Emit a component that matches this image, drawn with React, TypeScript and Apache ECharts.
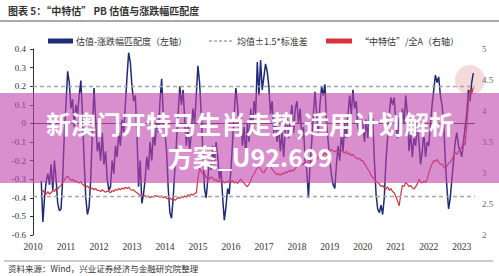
import React, { useEffect, useRef } from "react";
import * as echarts from "echarts";

// x positions: start year and step (years) shared by both series
const startYear = 2010.25;
const stepYear = 0.05;

// 估值-涨跌幅匹配度（左轴）
const matchValues: number[] = [
  // 2010.25 - 2010.95
  -0.31, -0.53, -0.40, -0.31, -0.27, -0.33, -0.22, -0.36, -0.20, -0.30, -0.43, -0.47, -0.46, -0.30, -0.05,
  // 2011
  0.10, 0.28, 0.22, 0.08, 0.13, -0.02, 0.10, 0.05, 0.15, 0.23, 0.05, -0.20, -0.40, -0.49, -0.45, -0.30, -0.05, 0.19, 0.02, -0.15,
  // 2012
  -0.10, -0.20, -0.05, -0.22, -0.15, -0.30, -0.36, -0.34, -0.20, -0.27, -0.12, -0.18, -0.05, -0.12, 0.02, -0.05, 0.10, 0.25, 0.38, 0.33,
  // 2013
  0.20, 0.12, 0.15, -0.05, -0.34, -0.20, -0.43, -0.38, -0.30, -0.18, -0.25, -0.10, -0.20, -0.05, -0.12, 0.02, -0.05, 0.12, 0.24, 0.05,
  // 2014
  -0.05, -0.15, -0.35, -0.48, -0.51, -0.40, -0.25, -0.10, 0.05, 0.20, 0.10, 0.18, 0.02, -0.12, 0.00, -0.15, -0.05, 0.08, 0.00, 0.15,
  // 2015
  0.31, 0.22, 0.05, -0.15, -0.35, -0.40, -0.30, -0.20, -0.25, -0.12, -0.22, -0.10, -0.18, -0.30, -0.25, -0.40, -0.52, -0.45, -0.35, -0.38,
  // 2016
  -0.25, -0.10, 0.05, 0.19, 0.10, -0.05, 0.05, -0.12, -0.02, -0.18, 0.00, -0.10, 0.08, -0.05, 0.12, 0.05, 0.33, 0.15, 0.34, 0.18,
  // 2017
  0.25, 0.32, 0.28, 0.20, 0.05, 0.12, -0.05, 0.02, -0.10, -0.02, -0.15, -0.05, -0.18, -0.02, 0.05, -0.08, 0.02, 0.10, -0.05, 0.08,
  // 2018
  0.12, 0.00, 0.08, -0.08, -0.02, -0.20, -0.25, -0.40, -0.22, -0.10, 0.05, 0.17, 0.05, -0.05, 0.10, 0.20, 0.15, 0.21, 0.00, -0.10,
  // 2019
  -0.20, -0.28, -0.33, -0.35, -0.22, -0.12, -0.20, -0.05, -0.15, 0.00, -0.08, 0.05, 0.15, 0.05, 0.18, 0.08, 0.12, -0.02, -0.05, 0.02,
  // 2020
  0.00, -0.10, 0.02, -0.08, 0.05, -0.05, 0.03, -0.20, -0.38, -0.46, -0.48, -0.44, -0.49, -0.40, -0.20, -0.08, 0.05, 0.14, 0.10, 0.14,
  // 2021
  0.00, -0.08, 0.03, -0.05, 0.08, 0.00, 0.15, 0.05, -0.15, -0.05, -0.18, -0.08, -0.12, 0.00, -0.10, -0.22, -0.15, -0.05, -0.18, -0.10,
  // 2022
  -0.12, 0.00, 0.10, 0.18, 0.26, 0.22, 0.25, 0.15, 0.10, 0.00, -0.20, -0.35, -0.46, -0.40, -0.30, -0.20, -0.10, -0.05, -0.12, -0.15,
  // 2023.00 - 2023.35
  -0.18, -0.10, -0.02, 0.05, 0.18, 0.12, 0.22, 0.27,
];

// “中特估”/全A（右轴）
const ratioValues: number[] = [
  // 2010.25 - 2010.95
  2.69, 2.72, 2.68, 2.66, 2.70, 2.66, 2.68, 2.72, 2.70, 2.75, 2.74, 2.78, 2.80, 2.85, 2.88,
  // 2011
  2.93, 2.95, 2.91, 2.88, 2.90, 2.86, 2.88, 2.85, 2.84, 2.86, 2.82, 2.80, 2.77, 2.79, 2.76, 2.74, 2.76, 2.73, 2.75, 2.72,
  // 2012
  2.72, 2.70, 2.73, 2.71, 2.69, 2.71, 2.70, 2.68, 2.72, 2.70, 2.74, 2.72, 2.75, 2.73, 2.76, 2.74, 2.77, 2.75, 2.77, 2.74,
  // 2013
  2.72, 2.73, 2.70, 2.68, 2.66, 2.63, 2.65, 2.62, 2.64, 2.61, 2.63, 2.60, 2.62, 2.61, 2.64, 2.62, 2.63, 2.61, 2.63, 2.60,
  // 2014
  2.62, 2.59, 2.58, 2.60, 2.57, 2.59, 2.56, 2.58, 2.61, 2.59, 2.62, 2.60, 2.63, 2.61, 2.65, 2.63, 2.66, 2.64, 2.67, 2.68,
  // 2015
  2.90, 3.08, 3.03, 2.98, 3.00, 2.92, 2.95, 2.90, 2.94, 2.92, 2.88, 2.90, 2.86, 2.88, 2.85, 2.87, 2.84, 2.86, 2.85, 2.88,
  // 2016
  2.85, 2.88, 2.84, 2.86, 2.83, 2.87, 2.90, 2.86, 2.84, 2.80, 2.78, 2.82, 2.88, 2.94, 2.98, 3.04, 3.08, 3.11, 3.06, 3.02,
  // 2017
  3.00, 3.05, 3.10, 3.17, 3.12, 3.06, 3.03, 3.00, 2.97, 2.99, 2.96, 3.00, 2.98, 3.02, 3.00, 3.04, 3.02, 3.05, 3.03, 3.08,
  // 2018
  3.10, 3.14, 3.12, 3.16, 3.13, 3.18, 3.15, 3.20, 3.22, 3.18, 3.20, 3.24, 3.22, 3.26, 3.28, 3.25, 3.30, 3.32, 3.29, 3.34,
  // 2019
  3.35, 3.38, 3.36, 3.34, 3.37, 3.35, 3.33, 3.36, 3.34, 3.32, 3.35, 3.30, 3.32, 3.28, 3.30, 3.26, 3.25, 3.22, 3.24, 3.20,
  // 2020
  3.20, 3.15, 3.11, 3.06, 3.02, 2.96, 2.93, 2.90, 2.86, 2.85, 2.82, 2.78, 2.80, 2.76, 2.74, 2.78, 2.72, 2.75, 2.70, 2.68,
  // 2021
  2.62, 2.55, 2.47, 2.65, 2.80, 2.78, 2.85, 2.82, 2.78, 2.80, 2.76, 2.74, 2.78, 2.82, 2.90, 2.86, 2.84, 2.87, 2.85, 2.90,
  // 2022
  3.00, 3.08, 3.15, 3.20, 3.18, 3.22, 3.17, 3.14, 3.15, 3.10, 3.07, 3.12, 3.15, 3.18, 3.22, 3.28, 3.33, 3.30, 3.35, 3.38,
  // 2023.00 - 2023.35
  3.42, 3.50, 3.45, 3.75, 4.10, 4.34, 4.28, 4.38,
];

// 均值±1.5*标准差
const bandLines: number[] = [0.2, -0.39];

const yearTicks = { min: 2010, max: 2023.4, interval: 1 };

const titleText = "图表 5：“中特估” PB 估值与涨跌幅匹配度";
const legendNames = ["估值-涨跌幅匹配度（左轴）", "均值±1.5*标准差", "“中特估”/全A（右轴）"];
const sourceText = "资料来源：Wind，兴业证券经济与金融研究院整理";
const overlayLines = ["新澳门开特马生肖走势,适用计划解析", "方案_U92.699"];

const BLUE = "#1f2a78";
const RED = "#d8343d";
const GRAY = "#a6a6a6";
const CJK = '"Noto Sans CJK SC", sans-serif';
const SERIF = '"Liberation Serif", "DejaVu Serif", serif';

export default function App() {
  const ref = useRef<HTMLDivElement>(null);
  useEffect(() => {
    if (!ref.current) return;
    const chart = echarts.init(ref.current, undefined, { renderer: "svg" });
    const toData = (vals: number[]) =>
      vals.map((v, i) => [+(startYear + i * stepYear).toFixed(2), v]);

    const option: any = {
      animation: false,
      backgroundColor: "#fff",
      grid: { left: 33, right: 24, top: 49, bottom: 41 },
      xAxis: {
        type: "value",
        min: yearTicks.min,
        max: yearTicks.max,
        interval: yearTicks.interval,
        axisLine: { show: false },
        axisTick: { show: false },
        splitLine: { show: false },
        axisLabel: {
          formatter: (v: number) => String(Math.round(v)),
          showMaxLabel: false,
          fontFamily: SERIF,
          fontSize: 9.5,
          color: "#333",
          margin: 7,
        },
      },
      yAxis: [
        {
          type: "value",
          min: -0.6,
          max: 0.4,
          interval: 0.1,
          position: "left",
          axisLine: { show: true, lineStyle: { color: "#333", width: 1 } },
          axisTick: { show: true, length: 3, lineStyle: { color: "#333" } },
          splitLine: { show: false },
          axisLabel: {
            formatter: (v: number) => {
              const r = Math.round(v * 10) / 10;
              return r === 0 ? "0" : String(r);
            },
            fontFamily: SERIF,
            fontSize: 9,
            color: "#333",
            margin: 7,
          },
        },
        {
          type: "value",
          min: 2,
          max: 5,
          interval: 0.5,
          position: "right",
          axisLine: { show: false },
          axisTick: { show: false },
          splitLine: { show: false },
          axisLabel: {
            fontFamily: SERIF,
            fontSize: 9,
            color: "#666",
            margin: 7,
          },
        },
      ],
      series: [
        {
          name: legendNames[0],
          type: "line",
          yAxisIndex: 0,
          data: toData(matchValues),
          symbol: "none",
          showSymbol: false,
          lineStyle: { color: BLUE, width: 1.5 },
          z: 3,
          markLine: {
            silent: true,
            symbol: "none",
            label: { show: false },
            data: [
              ...bandLines.map((v) => ({
                yAxis: v,
                lineStyle: { type: [4, 3], color: GRAY, width: 1.3 },
              })),
              { yAxis: 0, lineStyle: { type: "solid", color: "#404040", width: 1 } },
            ],
          },
        },
        {
          name: legendNames[2],
          type: "line",
          yAxisIndex: 1,
          data: toData(ratioValues),
          symbol: "none",
          showSymbol: false,
          lineStyle: { color: RED, width: 1.2 },
          z: 4,
        },
      ],
      graphic: [
        {
          type: "text",
          x: 8,
          y: 10,
          style: { text: titleText, font: `bold 10px ${CJK}`, fill: "#333", verticalAlign: "middle", align: "left" },
        },
        { type: "line", shape: { x1: 0, y1: 21, x2: 499, y2: 21 }, style: { stroke: "#8c8c8c", lineWidth: 1.5 } },
        // legend
        { type: "rect", shape: { x: 48, y: 38.5, width: 25, height: 5 }, style: { fill: BLUE } },
        {
          type: "text",
          x: 76,
          y: 41,
          style: { text: legendNames[0], font: `9px ${CJK}`, fill: "#333", verticalAlign: "middle", align: "left" },
        },
        {
          type: "line",
          shape: { x1: 209, y1: 41, x2: 234, y2: 41 },
          style: { stroke: GRAY, lineWidth: 1.3, lineDash: [3, 2] },
        },
        {
          type: "text",
          x: 237,
          y: 41,
          style: { text: legendNames[1], font: `9px ${CJK}`, fill: "#333", verticalAlign: "middle", align: "left" },
        },
        { type: "rect", shape: { x: 326, y: 38.5, width: 26, height: 5 }, style: { fill: RED } },
        {
          type: "text",
          x: 360,
          y: 41,
          style: { text: legendNames[2], font: `9px ${CJK}`, fill: "#333", verticalAlign: "middle", align: "left" },
        },
        // highlight circle
        {
          type: "circle",
          z: 0,
          shape: { cx: 470, cy: 80, r: 15 },
          style: { fill: "rgba(232,172,172,0.45)" },
        },
        // footer
        { type: "line", shape: { x1: 4, y1: 261, x2: 493, y2: 261 }, style: { stroke: "#9a9a9a", lineWidth: 1.2 } },
        {
          type: "text",
          x: 8,
          y: 267.5,
          style: { text: sourceText, font: `8.5px ${CJK}`, fill: "#333", verticalAlign: "middle", align: "left" },
        },
        // overlay band
        {
          type: "rect",
          z: 100,
          shape: { x: 0, y: 93, width: 499, height: 90 },
          style: { fill: "rgba(192,68,172,0.6)" },
        },
        {
          type: "text",
          z: 101,
          x: 250,
          y: 123,
          style: {
            text: overlayLines[0],
            font: `bold 25px ${CJK}`,
            fill: "#ffffff",
            align: "center",
            verticalAlign: "middle",
          },
        },
        {
          type: "text",
          z: 101,
          x: 250,
          y: 156,
          style: {
            text: overlayLines[1],
            font: `bold 25px ${CJK}`,
            fill: "#ffffff",
            align: "center",
            verticalAlign: "middle",
          },
        },
      ],
    };
    chart.setOption(option);
    return () => chart.dispose();
  }, []);
  return <div ref={ref} style={{ width: 499, height: 276, position: "absolute", left: 0, top: 0 }} />;
}
